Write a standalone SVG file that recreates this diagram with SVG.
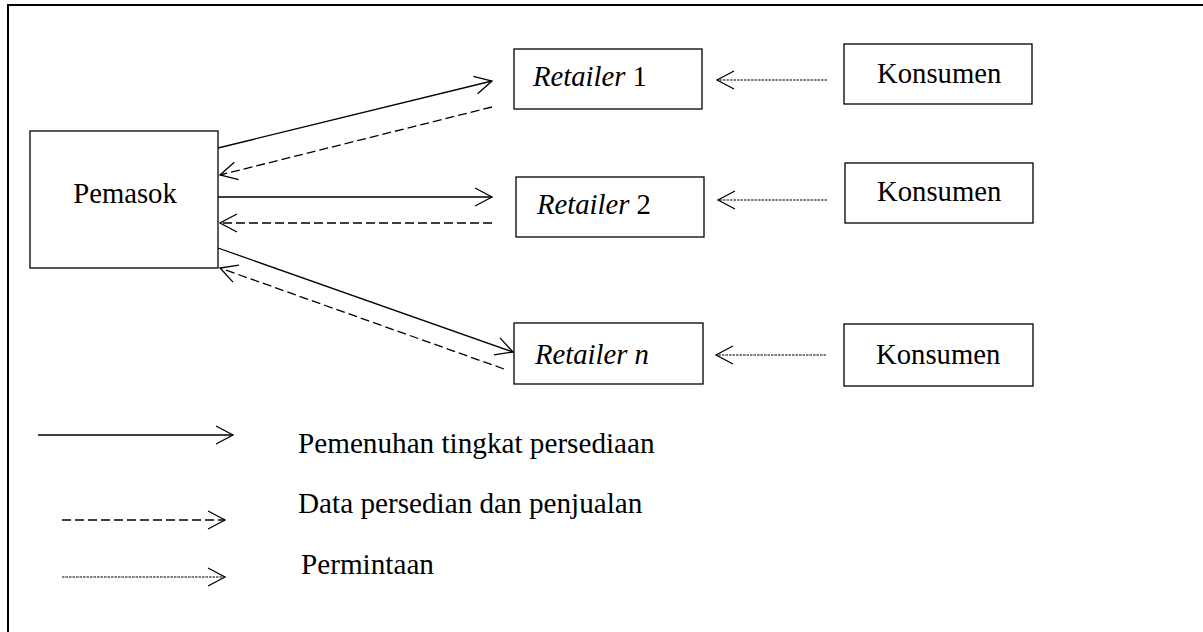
<svg xmlns="http://www.w3.org/2000/svg" width="1203" height="632" viewBox="0 0 1203 632">
  <style>
    .box { fill: #fff; stroke: #000; stroke-width: 1.3; }
    .lbl { font-family: "Liberation Serif", "Times New Roman", serif; font-size: 28.7px; fill: #000; }
    .leg { font-size: 29.2px; }
    .it { font-style: italic; }
    .solid { fill: none; stroke: #000; stroke-width: 1.3; marker-end: url(#open); }
    .dash { fill: none; stroke: #000; stroke-width: 1.3; stroke-dasharray: 9 4; marker-end: url(#open); }
    .dot { fill: none; stroke: #000; stroke-width: 1.1; stroke-dasharray: 2.5 1; marker-end: url(#open); }
  </style>
  <defs>
    <marker id="open" markerUnits="userSpaceOnUse" markerWidth="20" markerHeight="20" viewBox="-18 -10 20 20" refX="0" refY="0" orient="auto" overflow="visible">
      <path d="M -17 -9 L 0 0 L -17 9" fill="none" stroke="#000" stroke-width="1.3" stroke-dasharray="none"/>
    </marker>
  </defs>

  <rect width="1203" height="632" fill="#fff"/>

  <!-- outer frame: top and left edges only -->
  <path d="M 8 632 L 8 5 L 1203 5" fill="none" stroke="#000" stroke-width="2"/>

  <g id="pemasok">
    <rect class="box" x="30" y="131" width="188" height="137"/>
    <text class="lbl" x="125" y="203" text-anchor="middle">Pemasok</text>
  </g>

  <g id="retailer-1">
    <rect class="box" x="514" y="49" width="188" height="60"/>
    <text class="lbl" x="533" y="86"><tspan class="it">Retailer</tspan> 1</text>
  </g>
  <g id="retailer-2">
    <rect class="box" x="516" y="177" width="188" height="60"/>
    <text class="lbl" x="537" y="214"><tspan class="it">Retailer</tspan> 2</text>
  </g>
  <g id="retailer-n">
    <rect class="box" x="514" y="323" width="189" height="61"/>
    <text class="lbl" x="535" y="364"><tspan class="it">Retailer n</tspan></text>
  </g>

  <g id="konsumen-1">
    <rect class="box" x="844" y="44" width="188" height="60"/>
    <text class="lbl" x="877" y="83">Konsumen</text>
  </g>
  <g id="konsumen-2">
    <rect class="box" x="845" y="163" width="188" height="60"/>
    <text class="lbl" x="877" y="201">Konsumen</text>
  </g>
  <g id="konsumen-3">
    <rect class="box" x="844" y="324" width="189" height="62"/>
    <text class="lbl" x="876" y="364">Konsumen</text>
  </g>

  <g id="connectors">
    <!-- supply: pemasok to retailers -->
    <line class="solid" x1="218" y1="148" x2="492" y2="81"/>
    <line class="solid" x1="218" y1="197" x2="492" y2="197"/>
    <line class="solid" x1="218" y1="248" x2="513" y2="352"/>
    <!-- stock and sales data: retailers to pemasok -->
    <line class="dash" x1="492" y1="107" x2="220" y2="175"/>
    <line class="dash" x1="492" y1="223" x2="220" y2="223"/>
    <line class="dash" x1="504" y1="369" x2="220" y2="268"/>
    <!-- demand: konsumen to retailers -->
    <line class="dot" x1="827" y1="80" x2="717" y2="80"/>
    <line class="dot" x1="827" y1="200" x2="718" y2="200"/>
    <line class="dot" x1="826" y1="355" x2="716" y2="355"/>
  </g>

  <g id="legend">
    <line class="solid" x1="38" y1="435" x2="233" y2="435"/>
    <text class="lbl leg" x="298" y="453">Pemenuhan tingkat persediaan</text>
    <line class="dash" x1="62" y1="520" x2="225" y2="520"/>
    <text class="lbl leg" x="298" y="513">Data persedian dan penjualan</text>
    <line class="dot" x1="62" y1="577" x2="225" y2="577"/>
    <text class="lbl leg" x="301" y="574">Permintaan</text>
  </g>
</svg>
